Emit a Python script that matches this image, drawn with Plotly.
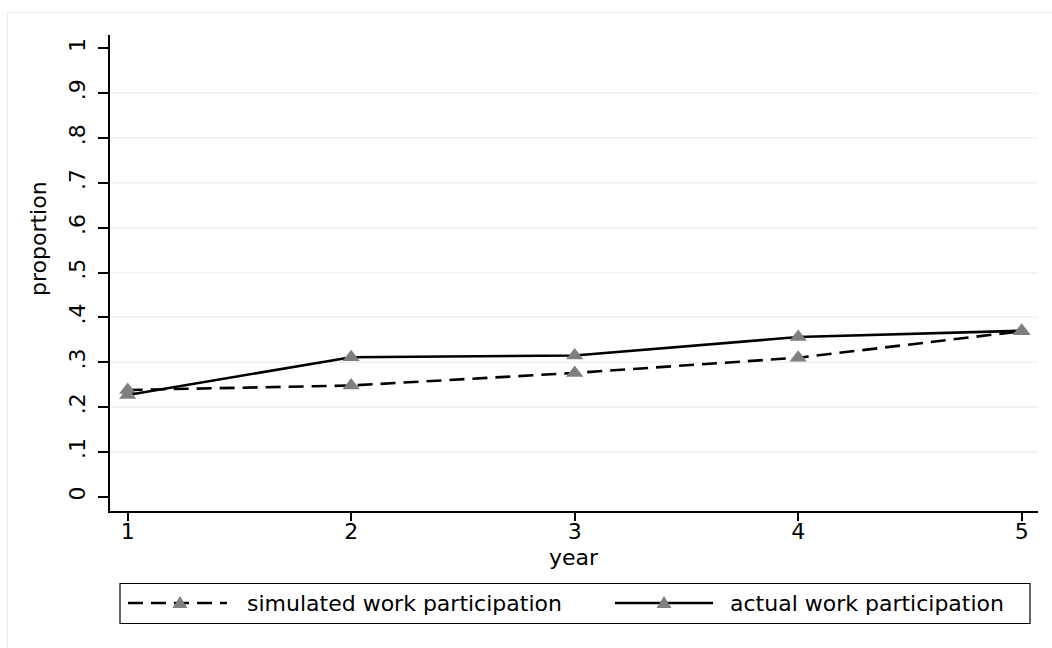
import plotly.graph_objects as go

W, H = 1052, 648

years = [1, 2, 3, 4, 5]
simulated = [0.238, 0.248, 0.276, 0.310, 0.369]
actual = [0.227, 0.311, 0.315, 0.356, 0.370]
ytick_vals = [0, 0.1, 0.2, 0.3, 0.4, 0.5, 0.6, 0.7, 0.8, 0.9, 1]
ytick_text = ["0", ".1", ".2", ".3", ".4", ".5", ".6", ".7", ".8", ".9", "1"]
series_names = ["simulated work participation", "actual work participation"]

FONT = "DejaVu Sans"
FS = 22
MARKER_GREY = "#7f7f7f"


def px(x):
    return x / W


def py(y):
    return 1 - y / H


fig = go.Figure()
fig.add_trace(go.Scatter(
    x=years, y=simulated, mode="lines+markers", name=series_names[0],
    line=dict(color="black", width=2.6, dash="15px,8px"),
    marker=dict(symbol="triangle-up", size=15, color=MARKER_GREY),
    showlegend=False))
fig.add_trace(go.Scatter(
    x=years, y=actual, mode="lines+markers", name=series_names[1],
    line=dict(color="black", width=2.6),
    marker=dict(symbol="triangle-up", size=15, color=MARKER_GREY),
    showlegend=False))

shapes = []
# gridlines
for v in ytick_vals[1:-1]:
    shapes.append(dict(type="line", xref="paper", yref="y", x0=px(111), x1=px(1038),
                       y0=v, y1=v, line=dict(color="#eaf2f3", width=1.5), layer="below"))
# outer faint frame (left & top)
shapes.append(dict(type="line", xref="paper", yref="paper", x0=px(7.5), x1=px(7.5),
                   y0=py(12), y1=py(660), line=dict(color="#e6eef0", width=1.2)))
shapes.append(dict(type="line", xref="paper", yref="paper", x0=px(7.5), x1=px(1060),
                   y0=py(12.5), y1=py(12.5), line=dict(color="#e6eef0", width=1.2)))
# legend box
shapes.append(dict(type="rect", xref="paper", yref="paper", x0=px(120), x1=px(1030),
                   y0=py(583.5), y1=py(623.5), line=dict(color="black", width=1.2)))
# legend samples
ly = 603
shapes.append(dict(type="line", xref="paper", yref="paper", x0=px(128), x1=px(227),
                   y0=py(ly), y1=py(ly), line=dict(color="black", width=2.6, dash="15px,8px")))
shapes.append(dict(type="line", xref="paper", yref="paper", x0=px(615), x1=px(713),
                   y0=py(ly), y1=py(ly), line=dict(color="black", width=2.6)))


def tri(cx, cy, w=15, h=12):
    return (f"M {px(cx - w/2)} {py(cy + h/2)} L {px(cx + w/2)} {py(cy + h/2)} "
            f"L {px(cx)} {py(cy - h/2)} Z")


for cx in (180, 664):
    shapes.append(dict(type="path", xref="paper", yref="paper", path=tri(cx, ly - 1),
                       fillcolor=MARKER_GREY, line=dict(color=MARKER_GREY, width=0)))

annotations = [
    dict(text=series_names[0], x=px(245), y=py(ly), xref="paper", yref="paper",
         xanchor="left", yanchor="middle", showarrow=False,
         font=dict(family=FONT, size=FS, color="black")),
    dict(text=series_names[1], x=px(728), y=py(ly), xref="paper", yref="paper",
         xanchor="left", yanchor="middle", showarrow=False,
         font=dict(family=FONT, size=FS, color="black")),
    dict(text="year", x=px(574), y=py(557), xref="paper", yref="paper",
         xanchor="center", yanchor="middle", showarrow=False,
         font=dict(family=FONT, size=FS, color="black")),
    dict(text="proportion", x=px(38), y=py(238), xref="paper", yref="paper",
         xanchor="center", yanchor="middle", showarrow=False, textangle=-90,
         font=dict(family=FONT, size=FS, color="black")),
]

fig.update_layout(
    width=W, height=H, autosize=False,
    margin=dict(l=0, r=0, t=0, b=0),
    paper_bgcolor="white", plot_bgcolor="white",
    font=dict(family=FONT, size=FS, color="black"),
    shapes=shapes, annotations=annotations,
    xaxis=dict(domain=[px(110), px(1038)], range=[0.921, 5.073],
               tickvals=years, ticktext=[str(y) for y in years],
               showline=True, linecolor="black", linewidth=1.5,
               ticks="outside", ticklen=8, tickwidth=1.5, tickcolor="black",
               ticklabelstandoff=-8,
               showgrid=False, zeroline=False, fixedrange=True),
    yaxis=dict(domain=[py(511), py(35)], range=[-0.0319, 1.0297],
               tickvals=ytick_vals, ticktext=ytick_text, tickangle=-90,
               showline=True, linecolor="black", linewidth=1.5,
               ticks="outside", ticklen=10, tickwidth=1.5, tickcolor="black",
               ticklabelstandoff=4,
               showgrid=False, zeroline=False, fixedrange=True),
)

fig.write_html("out.html")
